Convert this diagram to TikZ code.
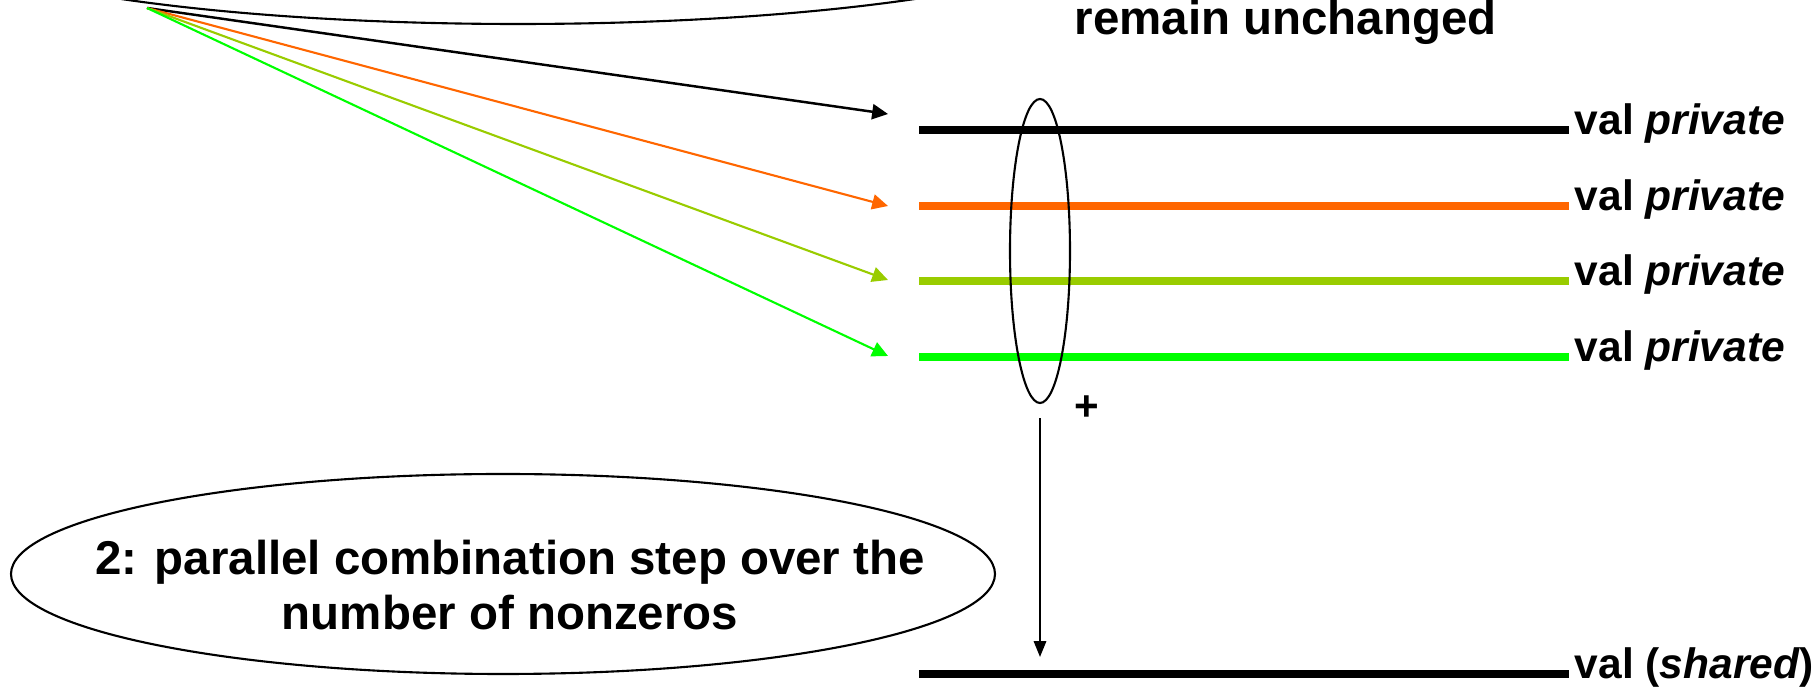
\documentclass[tikz,border=0pt]{standalone}
\usepackage{fontspec}
\setmainfont{Liberation Sans}
\usetikzlibrary{arrows.meta, positioning, shapes.geometric}
\definecolor{procOrange}{HTML}{FF6600}
\definecolor{procLime}{HTML}{99CC00}
\definecolor{procGreen}{HTML}{00FF00}
\tikzset{
  valline/.style={line width=2.1pt},
  fanarrow/.style={line width=0.6pt, -{Triangle[length=4.5pt, width=4.3pt]}},
  vallabel/.style={anchor=base west, inner sep=0pt, font=\fontsize{12.1}{14}\selectfont\bfseries},
  bigtext/.style={inner sep=0pt, font=\fontsize{13.5}{15.5}\selectfont\bfseries},
  bubble/.style={draw, ellipse, semithick, inner sep=0pt},
}

\begin{document}
\begin{tikzpicture}
    \useasboundingbox (0,0) rectangle (18.12,6.87);
    % Step 1 bubble, cut off at the top
    \node[bubble, minimum width=12cm, minimum height=2cm] (stepone) at (5.18,7.63) {};
    \node[bigtext, anchor=base west] (unchanged) at (10.74,6.52) {remain unchanged};

    % Private copies of val
    \coordinate (src) at (1.47,6.79);
    \coordinate (tipA) at (8.88,5.73);
    \coordinate (tipB) at (8.88,4.81);
    \coordinate (tipC) at (8.88,4.07);
    \coordinate (tipD) at (8.88,3.31);
    \coordinate (privA) at (9.19,5.57);
    \coordinate (privAend) at (15.69,5.57);
    \coordinate (privB) at (9.19,4.81);
    \coordinate (privBend) at (15.69,4.81);
    \coordinate (privC) at (9.19,4.06);
    \coordinate (privCend) at (15.69,4.06);
    \coordinate (privD) at (9.19,3.30);
    \coordinate (privDend) at (15.69,3.30);

    \draw[fanarrow, line width=0.7pt] (src) -- (tipA);
    \draw[fanarrow, procOrange] (src) -- (tipB);
    \draw[fanarrow, procLime] (src) -- (tipC);
    \draw[fanarrow, procGreen] (src) -- (tipD);

    \draw[valline] (privA) -- (privAend);
    \draw[valline, procOrange] (privB) -- (privBend);
    \draw[valline, procLime] (privC) -- (privCend);
    \draw[valline, procGreen] (privD) -- (privDend);

    \node[vallabel] (labA) at ([xshift=0.05cm, yshift=-0.05cm]privAend) {val \textit{private}};
    \node[vallabel] (labB) at ([xshift=0.05cm, yshift=-0.05cm]privBend) {val \textit{private}};
    \node[vallabel] (labC) at ([xshift=0.05cm, yshift=-0.05cm]privCend) {val \textit{private}};
    \node[vallabel] (labD) at ([xshift=0.05cm, yshift=-0.05cm]privDend) {val \textit{private}};

    % Reduction
    \node[bubble, minimum width=0.6cm, minimum height=3.04cm] (sum) at (10.40,4.36) {};
    \node[bigtext, font=\fontsize{12}{14}\selectfont\bfseries] (plus) at (10.87,2.79) {+};
    \coordinate (sumtip) at (10.40,0.30);
    \draw[semithick, shorten <=0.14cm, -{Triangle[length=4.5pt, width=3.5pt]}] (sum.south) -- (sumtip);

    % Shared val
    \coordinate (shared) at (9.19,0.13);
    \coordinate (sharedend) at (15.69,0.13);
    \draw[valline] (shared) -- (sharedend);
    \node[vallabel] (labShared) at ([xshift=0.05cm, yshift=-0.05cm]sharedend) {val (\textit{shared})};

    % Step 2 bubble
    \node[bubble, minimum width=9.84cm, minimum height=2cm] (steptwo) at (5.03,1.13) {};
    \node[bigtext, align=center] (steptwotext) at (5.10,1.02) {2: parallel combination step over the\\number of nonzeros};
\end{tikzpicture}
\end{document}
